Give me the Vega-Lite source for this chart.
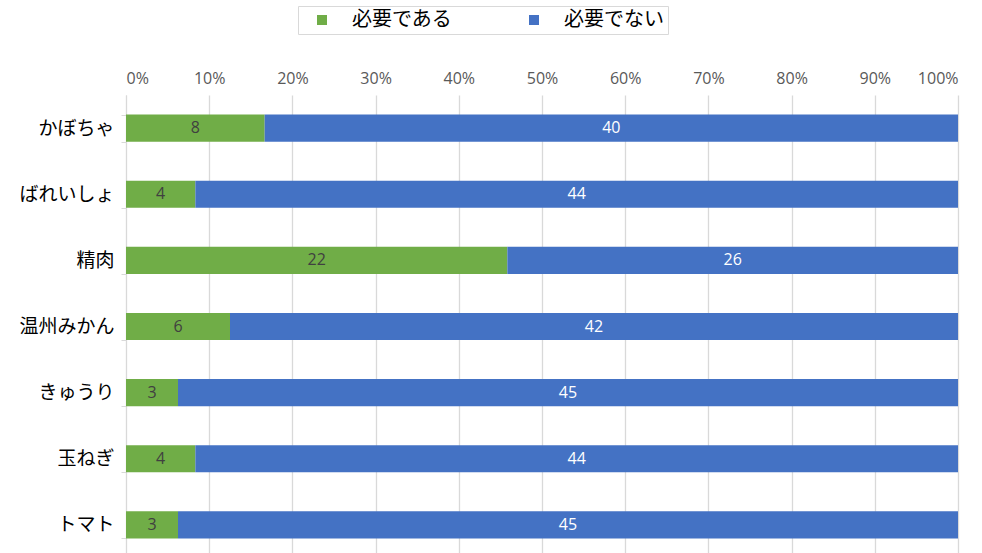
{
  "$schema": "https://vega.github.io/schema/vega-lite/v6.json",
  "autosize": {"type": "none"},
  "padding": {"left": 126, "top": 95, "right": 24, "bottom": 0},
  "width": 832,
  "height": 463,
  "background": "white",
  "config": {
    "view": {"stroke": null},
    "font": "Noto Sans CJK JP"
  },
  "data": {
    "values": [
      {"item": "かぼちゃ", "type": "必要である", "ord": 1, "value": 8},
      {"item": "かぼちゃ", "type": "必要でない", "ord": 2, "value": 40},
      {"item": "ばれいしょ", "type": "必要である", "ord": 1, "value": 4},
      {"item": "ばれいしょ", "type": "必要でない", "ord": 2, "value": 44},
      {"item": "精肉", "type": "必要である", "ord": 1, "value": 22},
      {"item": "精肉", "type": "必要でない", "ord": 2, "value": 26},
      {"item": "温州みかん", "type": "必要である", "ord": 1, "value": 6},
      {"item": "温州みかん", "type": "必要でない", "ord": 2, "value": 42},
      {"item": "きゅうり", "type": "必要である", "ord": 1, "value": 3},
      {"item": "きゅうり", "type": "必要でない", "ord": 2, "value": 45},
      {"item": "玉ねぎ", "type": "必要である", "ord": 1, "value": 4},
      {"item": "玉ねぎ", "type": "必要でない", "ord": 2, "value": 44},
      {"item": "トマト", "type": "必要である", "ord": 1, "value": 3},
      {"item": "トマト", "type": "必要でない", "ord": 2, "value": 45}
    ]
  },
  "encoding": {
    "y": {
      "field": "item",
      "type": "nominal",
      "sort": ["かぼちゃ", "ばれいしょ", "精肉", "温州みかん", "きゅうり", "玉ねぎ", "トマト"],
      "scale": {"paddingInner": 0.59, "paddingOuter": 0.295},
      "axis": {
        "title": null,
        "labelFontSize": 19,
        "labelColor": "#000000",
        "labelPadding": 7,
        "domainColor": "#d9d9d9",
        "tickColor": "#d9d9d9",
        "tickSize": 5,
        "tickBand": "extent",
        "grid": false
      }
    }
  },
  "layer": [
    {
      "mark": {"type": "bar"},
      "encoding": {
        "x": {
          "field": "value",
          "type": "quantitative",
          "stack": "normalize",
          "scale": {"domain": [0, 1]},
          "axis": {
            "orient": "top",
            "title": null,
            "format": "%",
            "values": [0, 0.1, 0.2, 0.3, 0.4, 0.5, 0.6, 0.7, 0.8, 0.9, 1],
            "labelFontSize": 16,
            "labelFont": "Open Sans",
            "labelColor": "#595959",
            "labelPadding": 9,
            "ticks": false,
            "domain": false,
            "grid": true,
            "gridColor": "#d9d9d9",
            "gridWidth": 1.3
          }
        },
        "color": {
          "field": "type",
          "type": "nominal",
          "scale": {"domain": ["必要である", "必要でない"], "range": ["#70AD47", "#4472C4"]},
          "legend": {
            "title": null,
            "orient": "none",
            "direction": "horizontal",
            "legendX": 172,
            "legendY": -89,
            "symbolType": "square",
            "symbolSize": 100,
            "symbolStrokeWidth": 0,
            "symbolOffset": 10,
            "labelFontSize": 20,
            "labelColor": "#000000",
            "labelOffset": 20,
            "labelLimit": 400,
            "labelExpr": "datum.label === '必要でない' ? datum.label + '\u2003\u2003\u2003\u2003' : datum.label",
            "columnPadding": 62,
            "padding": 4,
            "strokeColor": "#d9d9d9",
            "fillColor": "white",
            "offset": 0
          }
        },
        "order": {"field": "ord", "type": "quantitative"}
      }
    },
    {
      "mark": {"type": "text", "fontSize": 16, "font": "Open Sans", "baseline": "middle", "align": "center"},
      "encoding": {
        "x": {"field": "value", "type": "quantitative", "stack": "normalize", "bandPosition": 0.5},
        "text": {"field": "value", "type": "quantitative"},
        "order": {"field": "ord", "type": "quantitative"},
        "color": {
          "condition": {"test": "datum.type === '必要でない'", "value": "#ffffff"},
          "value": "#404040"
        }
      }
    }
  ]
}
